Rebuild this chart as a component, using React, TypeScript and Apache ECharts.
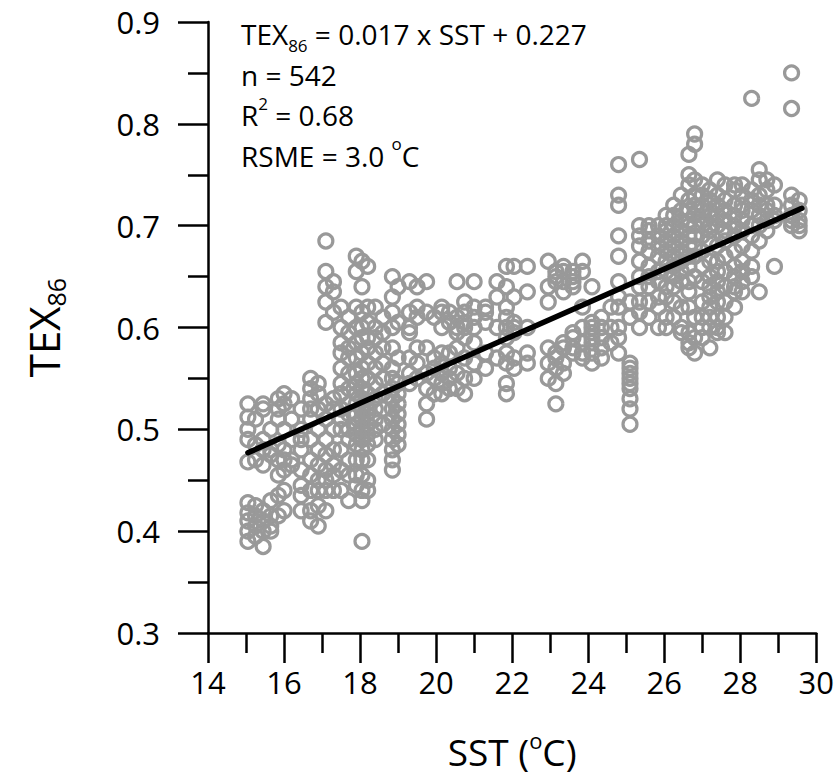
import React, { useEffect, useRef } from "react";
import * as echarts from "echarts";

// SST column positions (°C) and the TEX86 values read at each of them
const sstColumns: number[] = [
  15.05, 15.25, 15.45, 15.65, 15.85, 16.0, 16.2, 16.45, 16.7, 16.9,
  17.1, 17.3, 17.5, 17.7, 17.9, 18.05, 18.2, 18.4, 18.6, 18.85,
  19.0, 19.3, 19.5, 19.75, 19.95, 20.15, 20.35, 20.55, 20.75, 21.0,
  21.3, 21.6, 21.85, 22.05, 22.4, 22.95, 23.15, 23.35, 23.6, 23.85,
  24.1, 24.35, 24.6, 24.8, 25.1, 25.35, 25.6, 25.85, 26.05, 26.25,
  26.45, 26.65, 26.8, 27.0, 27.2, 27.4, 27.6, 27.85, 28.05, 28.3,
  28.5, 28.7, 28.9, 29.35, 29.55,
];

const texColumns: number[][] = [
  [0.525, 0.512, 0.5, 0.49, 0.468, 0.428, 0.418, 0.41, 0.4, 0.39],
  [0.51, 0.485, 0.47, 0.425, 0.415, 0.405, 0.395],
  [0.525, 0.52, 0.49, 0.48, 0.465, 0.42, 0.41, 0.4, 0.385],
  [0.5, 0.48, 0.475, 0.43, 0.415, 0.405, 0.4],
  [0.53, 0.52, 0.51, 0.485, 0.47, 0.455, 0.435, 0.415],
  [0.535, 0.525, 0.5, 0.48, 0.47, 0.46, 0.44, 0.42],
  [0.53, 0.51, 0.49, 0.47, 0.465],
  [0.52, 0.5, 0.49, 0.48, 0.46, 0.445, 0.435, 0.42],
  [0.55, 0.54, 0.53, 0.52, 0.51, 0.49, 0.47, 0.455, 0.44, 0.42, 0.41],
  [0.545, 0.535, 0.52, 0.5, 0.48, 0.465, 0.45, 0.44, 0.425, 0.405],
  [0.685, 0.655, 0.64, 0.625, 0.605, 0.525, 0.51, 0.49, 0.475, 0.46, 0.45, 0.44, 0.42],
  [0.645, 0.635, 0.615, 0.53, 0.52, 0.5, 0.48, 0.465, 0.455, 0.44],
  [0.62, 0.6, 0.585, 0.575, 0.56, 0.545, 0.535, 0.52, 0.51, 0.5, 0.48, 0.46, 0.44],
  [0.61, 0.595, 0.58, 0.57, 0.555, 0.54, 0.525, 0.515, 0.5, 0.49, 0.47, 0.455, 0.43],
  [0.67, 0.655, 0.62, 0.6, 0.585, 0.57, 0.555, 0.545, 0.535, 0.525, 0.515, 0.505, 0.495, 0.485, 0.47, 0.455, 0.445],
  [0.665, 0.64, 0.615, 0.6, 0.59, 0.575, 0.56, 0.55, 0.54, 0.53, 0.52, 0.51, 0.5, 0.49, 0.48, 0.47, 0.455, 0.44, 0.43, 0.39],
  [0.66, 0.62, 0.605, 0.59, 0.58, 0.565, 0.55, 0.535, 0.525, 0.515, 0.505, 0.495, 0.485, 0.47, 0.45, 0.44],
  [0.62, 0.6, 0.59, 0.575, 0.56, 0.545, 0.53, 0.52, 0.51, 0.5, 0.49],
  [0.61, 0.595, 0.58, 0.565, 0.55, 0.535, 0.52, 0.505],
  [0.65, 0.63, 0.615, 0.6, 0.58, 0.56, 0.55, 0.54, 0.53, 0.52, 0.51, 0.5, 0.49, 0.48, 0.47, 0.46],
  [0.64, 0.605, 0.57, 0.545, 0.535, 0.525, 0.515, 0.505, 0.495, 0.485],
  [0.645, 0.615, 0.6, 0.595, 0.57, 0.555, 0.545],
  [0.64, 0.62, 0.61, 0.58, 0.565, 0.55],
  [0.645, 0.615, 0.58, 0.555, 0.54, 0.525, 0.51],
  [0.61, 0.57, 0.56, 0.55, 0.535],
  [0.62, 0.615, 0.6, 0.575, 0.565, 0.555, 0.545, 0.535],
  [0.615, 0.605, 0.575, 0.56, 0.55, 0.54],
  [0.645, 0.61, 0.6, 0.595, 0.58, 0.555, 0.54],
  [0.625, 0.615, 0.605, 0.6, 0.59, 0.57, 0.55, 0.535],
  [0.645, 0.62, 0.61, 0.6, 0.585, 0.565, 0.55],
  [0.62, 0.615, 0.605, 0.575, 0.56],
  [0.645, 0.63, 0.6, 0.57],
  [0.66, 0.64, 0.62, 0.61, 0.6, 0.59, 0.575, 0.565, 0.545, 0.535],
  [0.66, 0.63, 0.605, 0.6, 0.595, 0.57, 0.56],
  [0.66, 0.635, 0.6, 0.575, 0.565],
  [0.665, 0.64, 0.625, 0.58, 0.565, 0.55],
  [0.655, 0.65, 0.645, 0.575, 0.57, 0.56, 0.545, 0.525],
  [0.66, 0.655, 0.645, 0.635, 0.585, 0.58, 0.565, 0.555],
  [0.655, 0.65, 0.645, 0.64, 0.595, 0.59, 0.58, 0.575],
  [0.665, 0.655, 0.62, 0.6, 0.585, 0.575, 0.57],
  [0.64, 0.605, 0.6, 0.595, 0.59, 0.585, 0.575, 0.565],
  [0.61, 0.6, 0.59, 0.58, 0.57],
  [0.62, 0.6, 0.585],
  [0.76, 0.73, 0.72, 0.69, 0.67, 0.645, 0.63, 0.62, 0.6, 0.59, 0.575],
  [0.625, 0.61, 0.565, 0.56, 0.555, 0.55, 0.545, 0.54, 0.53, 0.52, 0.505],
  [0.765, 0.7, 0.69, 0.68, 0.665, 0.65, 0.64, 0.625, 0.615, 0.6],
  [0.7, 0.695, 0.685, 0.675, 0.66, 0.65, 0.64, 0.625, 0.61],
  [0.7, 0.69, 0.68, 0.67, 0.655, 0.645, 0.63, 0.62, 0.6],
  [0.71, 0.7, 0.695, 0.685, 0.675, 0.665, 0.655, 0.64, 0.63, 0.61, 0.6],
  [0.72, 0.71, 0.7, 0.69, 0.68, 0.67, 0.66, 0.65, 0.64, 0.625, 0.61],
  [0.73, 0.715, 0.705, 0.695, 0.685, 0.675, 0.665, 0.655, 0.645, 0.62, 0.6, 0.595],
  [0.77, 0.75, 0.74, 0.725, 0.715, 0.705, 0.7, 0.69, 0.68, 0.67, 0.66, 0.645, 0.635, 0.62, 0.595, 0.585, 0.58],
  [0.79, 0.78, 0.745, 0.73, 0.72, 0.71, 0.7, 0.69, 0.68, 0.67, 0.65, 0.61, 0.59, 0.575],
  [0.74, 0.73, 0.72, 0.715, 0.705, 0.7, 0.69, 0.675, 0.66, 0.645, 0.625, 0.61, 0.6, 0.59],
  [0.735, 0.725, 0.715, 0.71, 0.7, 0.695, 0.685, 0.665, 0.65, 0.64, 0.63, 0.62, 0.61, 0.6, 0.58],
  [0.745, 0.73, 0.72, 0.71, 0.7, 0.68, 0.665, 0.655, 0.645, 0.635, 0.625, 0.61, 0.6, 0.595],
  [0.74, 0.725, 0.715, 0.705, 0.695, 0.685, 0.67, 0.655, 0.64, 0.625, 0.61, 0.595],
  [0.74, 0.735, 0.72, 0.71, 0.7, 0.69, 0.675, 0.66, 0.65, 0.64, 0.635, 0.62],
  [0.74, 0.73, 0.72, 0.715, 0.705, 0.695, 0.68, 0.665, 0.655, 0.645, 0.635],
  [0.825, 0.735, 0.725, 0.715, 0.7, 0.69, 0.675, 0.66, 0.65],
  [0.755, 0.745, 0.73, 0.72, 0.71, 0.7, 0.685, 0.635],
  [0.745, 0.735, 0.72, 0.715, 0.705, 0.695],
  [0.74, 0.72, 0.71, 0.705, 0.66],
  [0.85, 0.815, 0.73, 0.72, 0.71, 0.705, 0.7],
  [0.725, 0.715, 0.705, 0.7, 0.695],
];

// regression line end points (SST, TEX86)
const fitSst: number[] = [15.05, 29.62];
const fitTex: number[] = [0.477, 0.717];

const FONT = "'Open Sans', 'Noto Sans', sans-serif";

export default function App() {
  const ref = useRef<HTMLDivElement>(null);

  useEffect(() => {
    if (!ref.current) return;
    const chart = echarts.init(ref.current, null, { renderer: "svg" });

    const points: number[][] = [];
    sstColumns.forEach((x, i) => {
      texColumns[i].forEach((y) => points.push([x, y]));
    });
    const fit = fitSst.map((x, i) => [x, fitTex[i]]);

    const axisLine = { show: true, lineStyle: { color: "#000", width: 2.5 } };
    const textRich = {
      a: { fontSize: 28, fontFamily: FONT, color: "#000", lineHeight: 40.5, verticalAlign: "middle" as const },
      sub: { fontSize: 17, fontFamily: FONT, color: "#000", lineHeight: 14, verticalAlign: "bottom" as const },
      sup: { fontSize: 17, fontFamily: FONT, color: "#000", lineHeight: 30, verticalAlign: "top" as const },
    };

    chart.setOption({
      animation: false,
      grid: { left: 208, right: 19, top: 22, bottom: 145, containLabel: false },
      xAxis: {
        type: "value",
        min: 14,
        max: 30,
        interval: 2,
        name: "{a|SST (}{sup|o}{a|C)}",
        nameLocation: "middle",
        nameGap: 96,
        nameTextStyle: {
          rich: {
            a: { fontSize: 37, fontFamily: FONT, color: "#000", lineHeight: 44, verticalAlign: "middle" },
            sup: { fontSize: 22, fontFamily: FONT, color: "#000", lineHeight: 34, verticalAlign: "top" },
          },
        },
        axisLine: { ...axisLine, onZero: false },
        axisTick: { show: true, inside: false, length: 30, lineStyle: { color: "#000", width: 2.5 } },
        minorTick: { show: true, splitNumber: 2, length: 20, lineStyle: { color: "#000", width: 2.5 } },
        splitLine: { show: false },
        minorSplitLine: { show: false },
        axisLabel: { fontSize: 31, fontFamily: FONT, color: "#000", margin: 33 },
      },
      yAxis: {
        type: "value",
        min: 0.3,
        max: 0.9,
        interval: 0.1,
        name: "{a|TEX}{sub|86}",
        nameLocation: "middle",
        nameGap: 140,
        nameTextStyle: {
          rich: {
            a: { fontSize: 42, fontFamily: FONT, color: "#000", lineHeight: 50, verticalAlign: "middle" },
            sub: { fontSize: 25, fontFamily: FONT, color: "#000", lineHeight: 22, verticalAlign: "bottom" },
          },
        },
        axisLine: { ...axisLine, onZero: false },
        axisTick: { show: true, inside: false, length: 30, lineStyle: { color: "#000", width: 2.5 } },
        minorTick: { show: true, splitNumber: 2, length: 20, lineStyle: { color: "#000", width: 2.5 } },
        splitLine: { show: false },
        minorSplitLine: { show: false },
        axisLabel: {
          fontSize: 31,
          fontFamily: FONT,
          color: "#000",
          margin: 48,
          formatter: (v: number) => v.toFixed(1),
        },
      },
      series: [
        {
          type: "scatter",
          data: points,
          symbol: "circle",
          symbolSize: 14,
          itemStyle: { color: "rgba(0,0,0,0)", borderColor: "#999999", borderWidth: 3.2, opacity: 1 },
          silent: true,
          z: 2,
        },
        {
          type: "line",
          data: fit,
          symbol: "none",
          lineStyle: { color: "#000", width: 5.5, cap: "round" },
          silent: true,
          z: 3,
        },
      ],
      graphic: [
        {
          type: "text",
          left: 241,
          top: 20,
          style: {
            text: "{a|TEX}{sub|86}{a| = 0.017 x SST + 0.227}\n{a|n = 542}\n{a|R}{sup|2}{a| = 0.68}\n{a|RSME = 3.0 }{sup|o}{a|C}",
            rich: textRich,
          },
        },
      ],
    });

    return () => chart.dispose();
  }, []);

  return (
    <div
      ref={ref}
      style={{ position: "absolute", left: 0, top: 0, width: 837, height: 778 }}
    />
  );
}
